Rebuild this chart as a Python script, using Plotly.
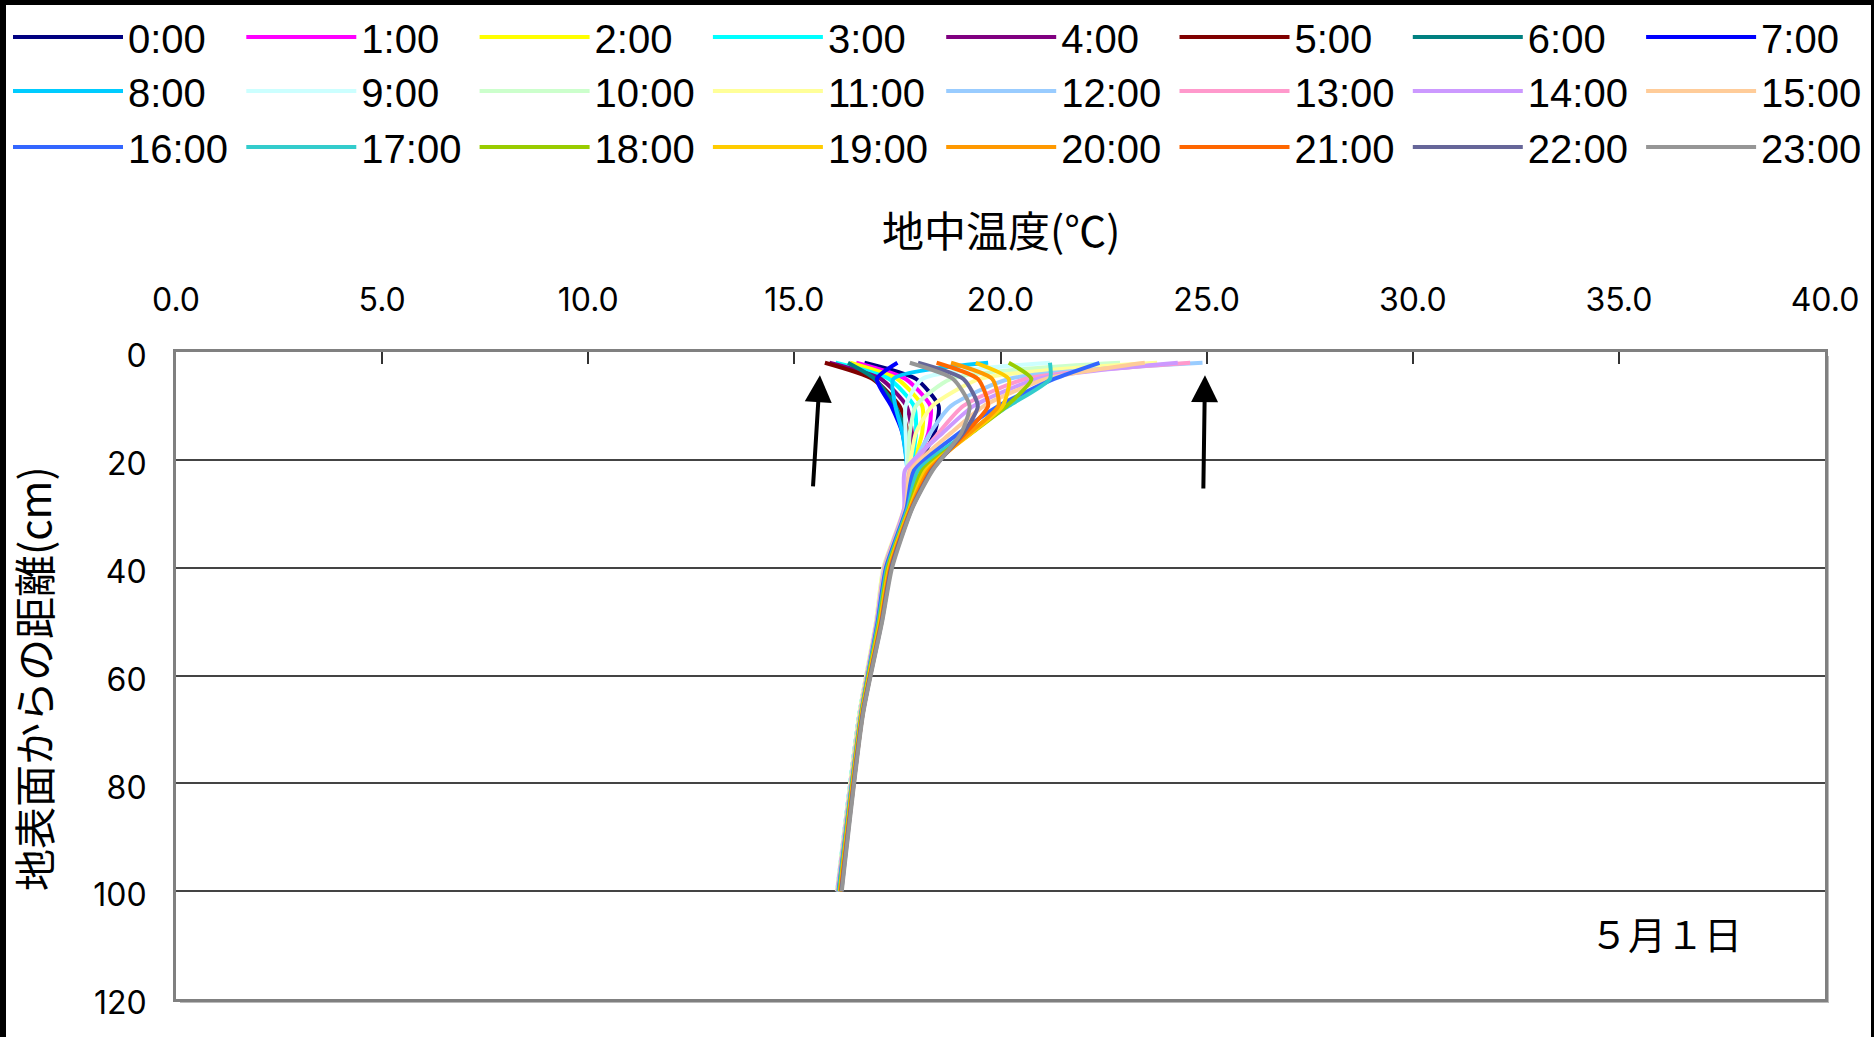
import plotly.graph_objects as go

# ---------------- data ----------------
depths = [2, 5, 10, 15, 22, 29, 40, 50, 67, 100]   # cm below surface
hours = ["0:00", "1:00", "2:00", "3:00", "4:00", "5:00", "6:00", "7:00",
         "8:00", "9:00", "10:00", "11:00", "12:00", "13:00", "14:00", "15:00",
         "16:00", "17:00", "18:00", "19:00", "20:00", "21:00", "22:00", "23:00"]

h00 = [16.70, 17.95, 18.50, 18.40, 17.95, 17.72, 17.22, 17.02, 16.60, 16.06]
h01 = [16.50, 17.70, 18.30, 18.25, 17.90, 17.72, 17.22, 17.02, 16.60, 16.06]
h02 = [16.35, 17.50, 18.10, 18.10, 17.85, 17.70, 17.20, 17.00, 16.60, 16.05]
h03 = [16.00, 17.30, 17.90, 17.95, 17.82, 17.70, 17.18, 17.00, 16.58, 16.04]
h04 = [15.85, 17.10, 17.72, 17.85, 17.80, 17.70, 17.20, 17.00, 16.60, 16.05]
h05 = [15.74, 16.90, 17.55, 17.75, 17.78, 17.70, 17.20, 17.00, 16.60, 16.05]
h06 = [16.30, 16.95, 17.45, 17.70, 17.76, 17.70, 17.20, 17.00, 16.60, 16.05]
h07 = [17.50, 17.00, 17.35, 17.62, 17.75, 17.70, 17.20, 17.00, 16.60, 16.05]
h08 = [19.70, 17.40, 17.45, 17.62, 17.74, 17.68, 17.18, 17.00, 16.58, 16.04]
h09 = [21.20, 18.10, 17.70, 17.70, 17.74, 17.68, 17.16, 16.98, 16.58, 16.03]
h10 = [22.90, 18.80, 17.95, 17.80, 17.75, 17.68, 17.20, 17.00, 16.60, 16.04]
h11 = [23.80, 19.50, 18.35, 17.95, 17.78, 17.66, 17.16, 16.98, 16.58, 16.04]
h12 = [24.90, 20.20, 18.80, 18.30, 17.82, 17.68, 17.20, 17.00, 16.60, 16.05]
h13 = [24.60, 20.60, 19.10, 18.50, 17.80, 17.68, 17.20, 17.00, 16.60, 16.05]
h14 = [24.30, 20.90, 19.35, 18.60, 17.68, 17.66, 17.18, 17.00, 16.60, 16.05]
h15 = [23.50, 21.10, 19.60, 18.80, 17.82, 17.70, 17.20, 17.02, 16.60, 16.06]
h16 = [22.40, 21.30, 19.95, 19.00, 17.90, 17.72, 17.22, 17.02, 16.62, 16.07]
h17 = [21.20, 21.20, 20.20, 19.20, 18.00, 17.75, 17.25, 17.04, 16.62, 16.08]
h18 = [20.20, 20.75, 20.15, 19.30, 18.10, 17.78, 17.27, 17.06, 16.63, 16.10]
h19 = [19.40, 20.20, 20.05, 19.30, 18.18, 17.80, 17.30, 17.08, 16.64, 16.11]
h20 = [18.80, 19.80, 19.95, 19.25, 18.25, 17.82, 17.32, 17.10, 16.65, 16.12]
h21 = [18.45, 19.45, 19.70, 19.15, 18.30, 17.84, 17.34, 17.11, 16.66, 16.13]
h22 = [18.00, 19.10, 19.45, 19.10, 18.33, 17.85, 17.35, 17.12, 16.66, 16.14]
h23 = [17.80, 18.85, 19.25, 19.05, 18.35, 17.86, 17.37, 17.13, 16.67, 16.15]

colors = ["#000080", "#FF00FF", "#FFFF00", "#00FFFF", "#800080", "#800000", "#008080", "#0000FF",
          "#00CCFF", "#CCFFFF", "#CCFFCC", "#FFFF99", "#99CCFF", "#FF99CC", "#CC99FF", "#FFCC99",
          "#3366FF", "#33CCCC", "#99CC00", "#FFCC00", "#FF9900", "#FF6600", "#666699", "#969696"]

x_ticks = [0, 5, 10, 15, 20, 25, 30, 35, 40]
y_ticks = [0, 20, 40, 60, 80, 100, 120]

date_label = "５月１日"
x_title = "地中温度(℃)"
y_title = "地表面からの距離(cm)"

profiles = [h00, h01, h02, h03, h04, h05, h06, h07, h08, h09, h10, h11,
            h12, h13, h14, h15, h16, h17, h18, h19, h20, h21, h22, h23]

# ---------------- layout geometry (pixels) ----------------
W, H = 1874, 1037
L, R, T, B = 176, 1825, 352, 999
LEG_X0, LEG_DX = 8, 233.3          # legend column start / spacing
LEG_ROWS = [37, 91, 147]           # legend row centres


def pxx(px):
    return (px - L) / (R - L)


def pxy(py):
    return (B - py) / (B - T)


fig = go.Figure()
legend_layout = {"legend": dict(visible=False)}
for i, (name, vals) in enumerate(zip(hours, profiles)):
    key = f"legend{i + 2}"
    fig.add_trace(go.Scatter(
        x=vals, y=depths, mode="lines", name=name,
        line=dict(color=colors[i], width=4, shape="spline", smoothing=0.6),
        legend=key, showlegend=True,
    ))
    col, row = i % 8, i // 8
    legend_layout[key] = dict(
        orientation="v", xref="container", yref="container",
        x=(LEG_X0 + col * LEG_DX) / W, xanchor="left",
        y=1 - LEG_ROWS[row] / H, yanchor="middle",
        font=dict(family="Liberation Sans, Arial, sans-serif", size=40, color="black"),
        itemwidth=110, bgcolor="rgba(0,0,0,0)",
        itemclick=False, itemdoubleclick=False,
    )
fig.update_layout(**legend_layout)

tick_font = dict(family="Inter, DejaVu Sans, sans-serif", size=32, color="black")
fig.update_xaxes(
    range=[0, 40], side="top", tickvals=x_ticks, tickformat=".1f",
    ticks="inside", ticklen=12, tickwidth=1.5, tickcolor="#333333",
    showline=True, mirror=True, linecolor="#808080", linewidth=3,
    showgrid=False, zeroline=False, tickfont=tick_font, ticklabelstandoff=25,
    automargin=False,
)
fig.update_yaxes(
    range=[120, 0], tickvals=y_ticks, ticks="",
    showline=True, mirror=True, linecolor="#808080", linewidth=3,
    showgrid=True, gridcolor="#444444", gridwidth=1.5, zeroline=False,
    tickfont=tick_font, ticklabelstandoff=20, ticklabelshift=-4, automargin=False,
)

cjk = "Noto Sans CJK JP, sans-serif"
annotations = [
    dict(x=0.5, y=pxy(229), xref="paper", yref="paper", text=x_title, showarrow=False,
         font=dict(family=cjk, size=42, color="black"), xanchor="center", yanchor="middle"),
    dict(x=pxx(32), y=pxy(679), xref="paper", yref="paper", text=y_title, showarrow=False,
         textangle=-90, font=dict(family=cjk, size=42, color="black"),
         xanchor="center", yanchor="middle"),
    dict(x=36.14, y=107.6, xref="x", yref="y", text=date_label, showarrow=False,
         font=dict(family=cjk, size=38, color="black"), xanchor="center", yanchor="middle"),
    dict(x=15.62, y=4.3, ax=15.45, ay=25.2, xref="x", yref="y", axref="x", ayref="y",
         text="", showarrow=True, arrowhead=2, arrowsize=1.35, arrowwidth=4, arrowcolor="black"),
    dict(x=24.96, y=4.3, ax=24.92, ay=25.6, xref="x", yref="y", axref="x", ayref="y",
         text="", showarrow=True, arrowhead=2, arrowsize=1.35, arrowwidth=4, arrowcolor="black"),
]

shapes = [
    # soft shadow along the right and bottom edges of the plot frame
    dict(type="line", xref="paper", yref="paper", x0=pxx(R + 3), x1=pxx(R + 3),
         y0=pxy(T + 4), y1=pxy(B + 3), line=dict(color="#BBBBBB", width=2), layer="below"),
    dict(type="line", xref="paper", yref="paper", x0=pxx(L + 4), x1=pxx(R + 4),
         y0=pxy(B + 3), y1=pxy(B + 3), line=dict(color="#BBBBBB", width=2), layer="below"),
    # black frame strips (top, left, right) of the original picture
    dict(type="rect", xref="paper", yref="paper", x0=pxx(0), x1=pxx(W), y0=pxy(5), y1=pxy(0),
         fillcolor="black", line=dict(width=0), layer="above"),
    dict(type="rect", xref="paper", yref="paper", x0=pxx(0), x1=pxx(6), y0=pxy(H), y1=pxy(0),
         fillcolor="black", line=dict(width=0), layer="above"),
    dict(type="rect", xref="paper", yref="paper", x0=pxx(1871), x1=pxx(W), y0=pxy(H), y1=pxy(0),
         fillcolor="black", line=dict(width=0), layer="above"),
]

fig.update_layout(
    width=W, height=H, showlegend=True,
    margin=dict(l=L, r=W - R, t=T, b=H - B, pad=0, autoexpand=False),
    paper_bgcolor="white", plot_bgcolor="white",
    annotations=annotations, shapes=shapes,
)

fig.write_html("out.html")
